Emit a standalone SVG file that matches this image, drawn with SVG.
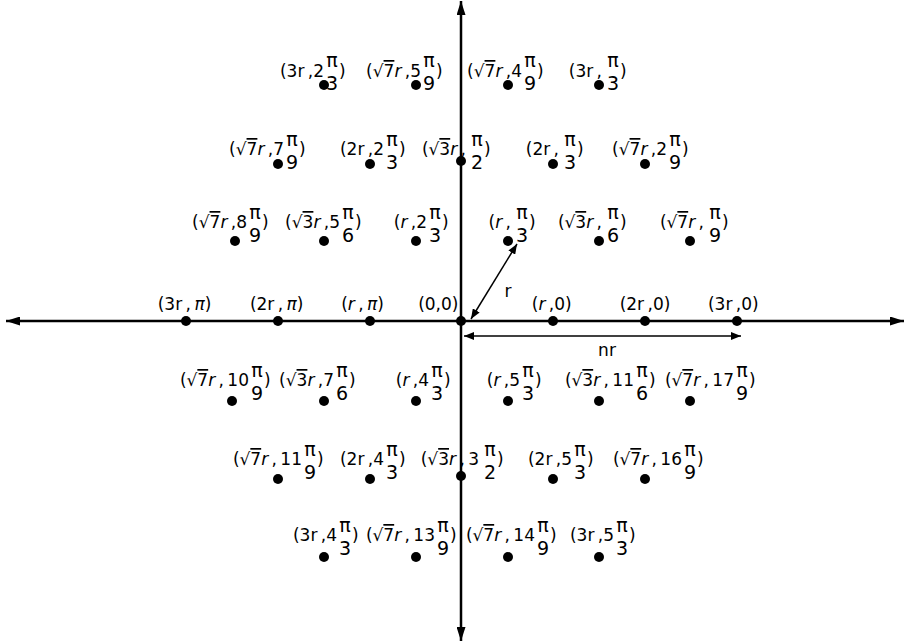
<svg xmlns="http://www.w3.org/2000/svg" width="905" height="643" viewBox="0 0 905 643">
<defs>
<style>
text{font-family:"DejaVu Sans","Liberation Sans",sans-serif;font-size:17px;fill:#000}
.e{text-anchor:end}
.m{text-anchor:middle}
.f{text-anchor:middle;font-size:19px}
.i{font-style:italic}
.o{text-decoration:overline}
circle{fill:#000}
.ax{stroke:#000;stroke-width:2.5;fill:none}
.ar{stroke:#000;stroke-width:1.5;fill:none}
</style>
<marker id="big" viewBox="0 0 14 9" refX="14" refY="4.5" markerWidth="14" markerHeight="9" markerUnits="userSpaceOnUse" orient="auto-start-reverse"><path d="M0,0 L14,4.5 L0,9 z" fill="#000"/></marker>
<marker id="sm" viewBox="0 0 10 8" refX="10" refY="4" markerWidth="10" markerHeight="8" markerUnits="userSpaceOnUse" orient="auto-start-reverse"><path d="M0,0 L10,4 L0,8 z" fill="#000"/></marker>
</defs>

<g id="labels">
<!-- Row 1 -->
<g id="n-3r-2pi3"><text class="e" x="324" y="77">(3r&#8201;,2</text><text class="f"><tspan x="332" y="67">π</tspan><tspan x="332" y="90">3</tspan></text><text x="339" y="77">)</text></g>
<g id="n-s7r-5pi9"><text class="e" x="421" y="77">(√<tspan class="o">7</tspan><tspan class="i">r</tspan>&#8201;,5</text><text class="f"><tspan x="429" y="67">π</tspan><tspan x="429" y="90">9</tspan></text><text x="436" y="77">)</text></g>
<g id="n-s7r-4pi9"><text class="e" x="522" y="77">(√<tspan class="o">7</tspan><tspan class="i">r</tspan>&#8201;,4</text><text class="f"><tspan x="530" y="67">π</tspan><tspan x="530" y="90">9</tspan></text><text x="537" y="77">)</text></g>
<g id="n-3r-pi3"><text class="e" x="602" y="77">(3r&#8201;,</text><text class="f"><tspan x="613" y="67">π</tspan><tspan x="613" y="90">3</tspan></text><text x="620" y="77">)</text></g>
<!-- Row 2 -->
<g id="n-s7r-7pi9"><text class="e" x="284" y="155">(√<tspan class="o">7</tspan><tspan class="i">r</tspan>&#8201;,7</text><text class="f"><tspan x="292" y="146">π</tspan><tspan x="292" y="169">9</tspan></text><text x="299" y="155">)</text></g>
<g id="n-2r-2pi3"><text class="e" x="384" y="155">(2r&#8201;,2</text><text class="f"><tspan x="392" y="146">π</tspan><tspan x="392" y="169">3</tspan></text><text x="399" y="155">)</text></g>
<g id="n-s3r-pi2"><text class="e" x="466" y="155">(√<tspan class="o">3</tspan><tspan class="i">r</tspan>&#8201;,</text><text class="f"><tspan x="477" y="146">π</tspan><tspan x="477" y="169">2</tspan></text><text x="484" y="155">)</text></g>
<g id="n-2r-pi3"><text class="e" x="559" y="155">(2r&#8201;,</text><text class="f"><tspan x="570" y="146">π</tspan><tspan x="570" y="169">3</tspan></text><text x="577" y="155">)</text></g>
<g id="n-s7r-2pi9"><text class="e" x="667" y="155">(√<tspan class="o">7</tspan><tspan class="i">r</tspan>&#8201;,2</text><text class="f"><tspan x="675" y="146">π</tspan><tspan x="675" y="169">9</tspan></text><text x="682" y="155">)</text></g>
<!-- Row 3 -->
<g id="n-s7r-8pi9"><text class="e" x="247" y="228">(√<tspan class="o">7</tspan><tspan class="i">r</tspan>&#8201;,8</text><text class="f"><tspan x="255" y="219">π</tspan><tspan x="255" y="242">9</tspan></text><text x="262" y="228">)</text></g>
<g id="n-s3r-5pi6"><text class="e" x="340" y="228">(√<tspan class="o">3</tspan><tspan class="i">r</tspan>&#8201;,5</text><text class="f"><tspan x="348" y="219">π</tspan><tspan x="348" y="242">6</tspan></text><text x="355" y="228">)</text></g>
<g id="n-r-2pi3"><text class="e" x="427" y="228">(<tspan class="i">r</tspan>&#8201;,2</text><text class="f"><tspan x="435" y="219">π</tspan><tspan x="435" y="242">3</tspan></text><text x="442" y="228">)</text></g>
<g id="n-r-pi3"><text class="e" x="511" y="228">(<tspan class="i">r</tspan>&#8201;,</text><text class="f"><tspan x="522" y="219">π</tspan><tspan x="522" y="242">3</tspan></text><text x="529" y="228">)</text></g>
<g id="n-s3r-pi6"><text class="e" x="602" y="228">(√<tspan class="o">3</tspan><tspan class="i">r</tspan>&#8201;,</text><text class="f"><tspan x="613" y="219">π</tspan><tspan x="613" y="242">6</tspan></text><text x="620" y="228">)</text></g>
<g id="n-s7r-pi9"><text class="e" x="704" y="228">(√<tspan class="o">7</tspan><tspan class="i">r</tspan>&#8201;,</text><text class="f"><tspan x="715" y="219">π</tspan><tspan x="715" y="242">9</tspan></text><text x="722" y="228">)</text></g>
<!-- Axis row -->
<g id="n-3r-pi"><text class="m" x="184.5" y="310">(3r&#8201;,&#8201;<tspan class="i">π</tspan>)</text></g>
<g id="n-2r-pi"><text class="m" x="276.7" y="310">(2r&#8201;,&#8201;<tspan class="i">π</tspan>)</text></g>
<g id="n-r-pi"><text class="m" x="362.5" y="310">(<tspan class="i">r</tspan>&#8201;,&#8201;<tspan class="i">π</tspan>)</text></g>
<g id="n-0-0"><text class="m" x="438.3" y="310">(0,0)</text></g>
<g id="n-r-0"><text class="m" x="551.7" y="310">(<tspan class="i">r</tspan>&#8201;,0)</text></g>
<g id="n-2r-0"><text class="m" x="645" y="310">(2r&#8201;,0)</text></g>
<g id="n-3r-0"><text class="m" x="733.3" y="310">(3r&#8201;,0)</text></g>
<!-- Row 5 -->
<g id="n-s7r-10pi9"><text class="e" x="249" y="386">(√<tspan class="o">7</tspan><tspan class="i">r</tspan>&#8201;,&#8201;10</text><text class="f"><tspan x="257" y="377">π</tspan><tspan x="257" y="400">9</tspan></text><text x="264" y="386">)</text></g>
<g id="n-s3r-7pi6"><text class="e" x="334" y="386">(√<tspan class="o">3</tspan><tspan class="i">r</tspan>&#8201;,7</text><text class="f"><tspan x="342" y="377">π</tspan><tspan x="342" y="400">6</tspan></text><text x="349" y="386">)</text></g>
<g id="n-r-4pi3"><text class="e" x="429" y="386">(<tspan class="i">r</tspan>&#8201;,4</text><text class="f"><tspan x="437" y="377">π</tspan><tspan x="437" y="400">3</tspan></text><text x="444" y="386">)</text></g>
<g id="n-r-5pi3"><text class="e" x="520" y="386">(<tspan class="i">r</tspan>&#8201;,5</text><text class="f"><tspan x="528" y="377">π</tspan><tspan x="528" y="400">3</tspan></text><text x="535" y="386">)</text></g>
<g id="n-s3r-11pi6"><text class="e" x="634" y="386">(√<tspan class="o">3</tspan><tspan class="i">r</tspan>&#8201;,&#8201;11</text><text class="f"><tspan x="642" y="377">π</tspan><tspan x="642" y="400">6</tspan></text><text x="649" y="386">)</text></g>
<g id="n-s7r-17pi9"><text class="e" x="734" y="386">(√<tspan class="o">7</tspan><tspan class="i">r</tspan>&#8201;,&#8201;17</text><text class="f"><tspan x="742" y="377">π</tspan><tspan x="742" y="400">9</tspan></text><text x="749" y="386">)</text></g>
<!-- Row 6 -->
<g id="n-s7r-11pi9"><text class="e" x="302" y="465">(√<tspan class="o">7</tspan><tspan class="i">r</tspan>&#8201;,&#8201;11</text><text class="f"><tspan x="310" y="456">π</tspan><tspan x="310" y="479">9</tspan></text><text x="317" y="465">)</text></g>
<g id="n-2r-4pi3"><text class="e" x="384" y="465">(2r&#8201;,4</text><text class="f"><tspan x="392" y="456">π</tspan><tspan x="392" y="479">3</tspan></text><text x="399" y="465">)</text></g>
<g id="n-s3r-3pi2"><text class="e" x="479" y="465">(√<tspan class="o">3</tspan><tspan class="i">r</tspan>&#8201;,&#8201;3</text><text class="f"><tspan x="490" y="456">π</tspan><tspan x="490" y="479">2</tspan></text><text x="497" y="465">)</text></g>
<g id="n-2r-5pi3"><text class="e" x="572" y="465">(2r&#8201;,5</text><text class="f"><tspan x="580" y="456">π</tspan><tspan x="580" y="479">3</tspan></text><text x="587" y="465">)</text></g>
<g id="n-s7r-16pi9"><text class="e" x="682" y="465">(√<tspan class="o">7</tspan><tspan class="i">r</tspan>&#8201;,&#8201;16</text><text class="f"><tspan x="690" y="456">π</tspan><tspan x="690" y="479">9</tspan></text><text x="697" y="465">)</text></g>
<!-- Row 7 -->
<g id="n-3r-4pi3"><text class="e" x="337" y="541">(3r&#8201;,4</text><text class="f"><tspan x="345" y="532">π</tspan><tspan x="345" y="555">3</tspan></text><text x="352" y="541">)</text></g>
<g id="n-s7r-13pi9"><text class="e" x="435" y="541">(√<tspan class="o">7</tspan><tspan class="i">r</tspan>&#8201;,&#8201;13</text><text class="f"><tspan x="443" y="532">π</tspan><tspan x="443" y="555">9</tspan></text><text x="450" y="541">)</text></g>
<g id="n-s7r-14pi9"><text class="e" x="535" y="541">(√<tspan class="o">7</tspan><tspan class="i">r</tspan>&#8201;,&#8201;14</text><text class="f"><tspan x="543" y="532">π</tspan><tspan x="543" y="555">9</tspan></text><text x="550" y="541">)</text></g>
<g id="n-3r-5pi3"><text class="e" x="614" y="541">(3r&#8201;,5</text><text class="f"><tspan x="622" y="532">π</tspan><tspan x="622" y="555">3</tspan></text><text x="629" y="541">)</text></g>
</g>

<g id="connectors">
<path class="ax" d="M6,321 H904" marker-start="url(#big)" marker-end="url(#big)"/>
<path class="ax" d="M461,1 V641" marker-start="url(#big)" marker-end="url(#big)"/>
<path class="ar" d="M471,319 L517,244" marker-start="url(#sm)" marker-end="url(#sm)"/>
<path class="ar" d="M464,336 H741" marker-start="url(#sm)" marker-end="url(#sm)"/>
<text class="m" x="508" y="297">r</text>
<text class="m" x="607" y="356">nr</text>
</g>

<g id="dots">
<circle cx="324" cy="85" r="5"/><circle cx="416" cy="85" r="5"/><circle cx="508" cy="85" r="5"/><circle cx="599" cy="85" r="5"/>
<circle cx="278" cy="164" r="5"/><circle cx="370" cy="164" r="5"/><circle cx="461" cy="161" r="5"/><circle cx="553" cy="164" r="5"/><circle cx="645" cy="164" r="5"/>
<circle cx="235" cy="241" r="5"/><circle cx="324" cy="241" r="5"/><circle cx="416" cy="241" r="5"/><circle cx="508" cy="241" r="5"/><circle cx="599" cy="241" r="5"/><circle cx="690" cy="241" r="5"/>
<circle cx="186" cy="321" r="5"/><circle cx="278" cy="321" r="5"/><circle cx="370" cy="321" r="5"/><circle cx="461" cy="321" r="5"/><circle cx="553" cy="321" r="5"/><circle cx="645" cy="321" r="5"/><circle cx="737" cy="321" r="5"/>
<circle cx="232" cy="401" r="5"/><circle cx="324" cy="401" r="5"/><circle cx="416" cy="401" r="5"/><circle cx="508" cy="401" r="5"/><circle cx="599" cy="401" r="5"/><circle cx="690" cy="401" r="5"/>
<circle cx="278" cy="479" r="5"/><circle cx="370" cy="479" r="5"/><circle cx="461" cy="476" r="5"/><circle cx="553" cy="479" r="5"/><circle cx="645" cy="479" r="5"/>
<circle cx="324" cy="557" r="5"/><circle cx="416" cy="557" r="5"/><circle cx="508" cy="557" r="5"/><circle cx="599" cy="557" r="5"/>
</g>
</svg>
